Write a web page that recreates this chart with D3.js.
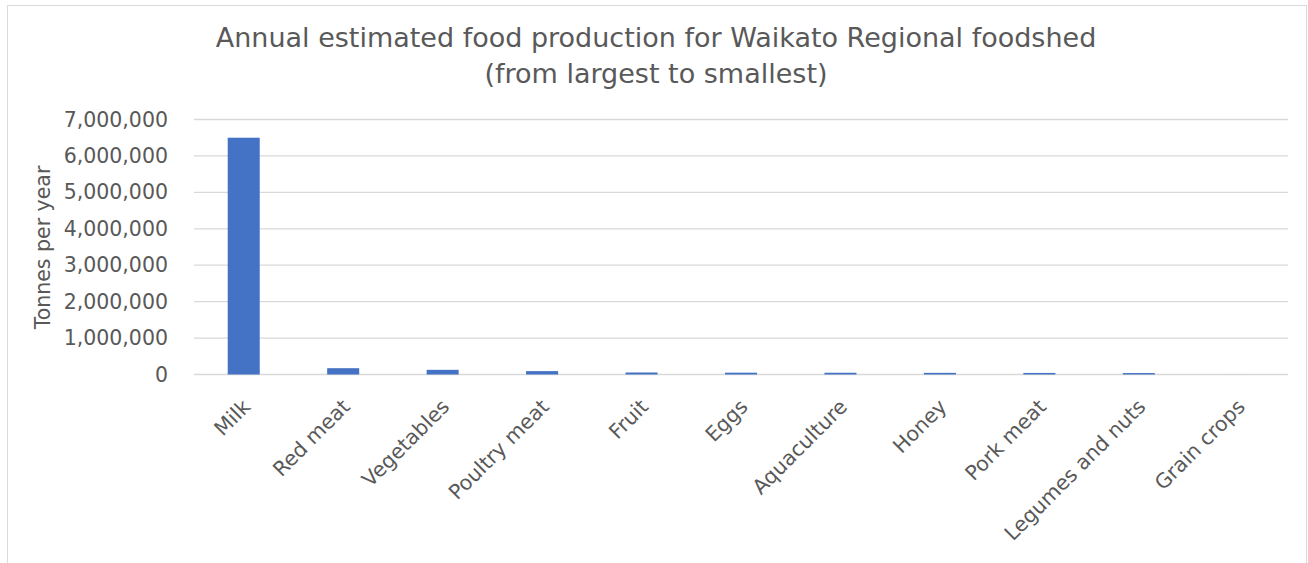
<!DOCTYPE html>
<html>
<head>
<meta charset="utf-8">
<script src="https://cdn.jsdelivr.net/npm/d3@7"></script>
<style>
  body { margin: 0; background: #fff; }
  text { font-family: "DejaVu Sans", sans-serif; fill: #595959; }
</style>
</head>
<body>
<svg id="chart" width="1308" height="563"></svg>
<script>
// chart data
const categories = ["Milk", "Red meat", "Vegetables", "Poultry meat", "Fruit", "Eggs",
  "Aquaculture", "Honey", "Pork meat", "Legumes and nuts", "Grain crops"];
const tonnes = [6500000, 173000, 128000, 93000, 55000, 50000, 48000, 45000, 43000, 40000, 1000];
const yTicks = [0, 1000000, 2000000, 3000000, 4000000, 5000000, 6000000, 7000000];
const titleLines = ["Annual estimated food production for Waikato Regional foodshed",
  "(from largest to smallest)"];
const yTitle = "Tonnes per year";

const svg = d3.select("#chart");

// plot area
let plotLeft = 194, plotRight = 1288, plotTop = 119.5, plotBottom = 374.5;

// outer frame
svg.append("rect")
  .attr("x", 7.5).attr("y", 5.5)
  .attr("width", 1299).attr("height", 570)
  .attr("fill", "#fff")
  .attr("stroke", "#d9d9d9");

let x = d3.scaleBand()
  .domain(categories)
  .range([plotLeft, plotRight])
  .paddingInner(0.678)
  .paddingOuter(0.339);

let y = d3.scaleLinear()
  .domain([0, 7000000])
  .range([plotBottom, plotTop]);

// gridlines
svg.append("g")
  .selectAll("line")
  .data(yTicks)
  .join("line")
  .attr("x1", plotLeft).attr("x2", plotRight)
  .attr("y1", d => y(d)).attr("y2", d => y(d))
  .attr("stroke", "#d9d9d9")
  .attr("stroke-width", 1.3);

// y axis labels
let yAxis = d3.axisLeft(y)
  .tickValues(yTicks)
  .tickSize(0)
  .tickPadding(26)
  .tickFormat(d3.format(","));
svg.append("g")
  .attr("transform", `translate(${plotLeft},0)`)
  .call(yAxis)
  .call(g => g.select(".domain").remove())
  .selectAll("text")
  .attr("font-size", 20.5)
  .attr("font-family", "DejaVu Sans")
  .attr("fill", "#595959");

// bars
svg.append("g")
  .selectAll("rect")
  .data(tonnes)
  .join("rect")
  .attr("x", (d, i) => x(categories[i]))
  .attr("y", d => y(d))
  .attr("width", x.bandwidth())
  .attr("height", d => plotBottom - y(d))
  .attr("fill", "#4472c4");

// category labels, rotated
svg.append("g")
  .selectAll("text")
  .data(categories)
  .join("text")
  .attr("transform", d => `translate(${x(d) + x.bandwidth() / 2 + 8},${408}) rotate(-45)`)
  .attr("text-anchor", "end")
  .attr("font-size", 20.5)
  .text(d => d);

// y axis title
svg.append("text")
  .attr("transform", "translate(50,247.5) rotate(-90)")
  .attr("text-anchor", "middle")
  .attr("font-size", 20.5)
  .text(yTitle);

// chart title
svg.append("g")
  .selectAll("text")
  .data(titleLines)
  .join("text")
  .attr("x", 656)
  .attr("y", (d, i) => 46.7 + i * 36)
  .attr("text-anchor", "middle")
  .attr("font-size", 27)
  .text(d => d);
</script>
</body>
</html>
